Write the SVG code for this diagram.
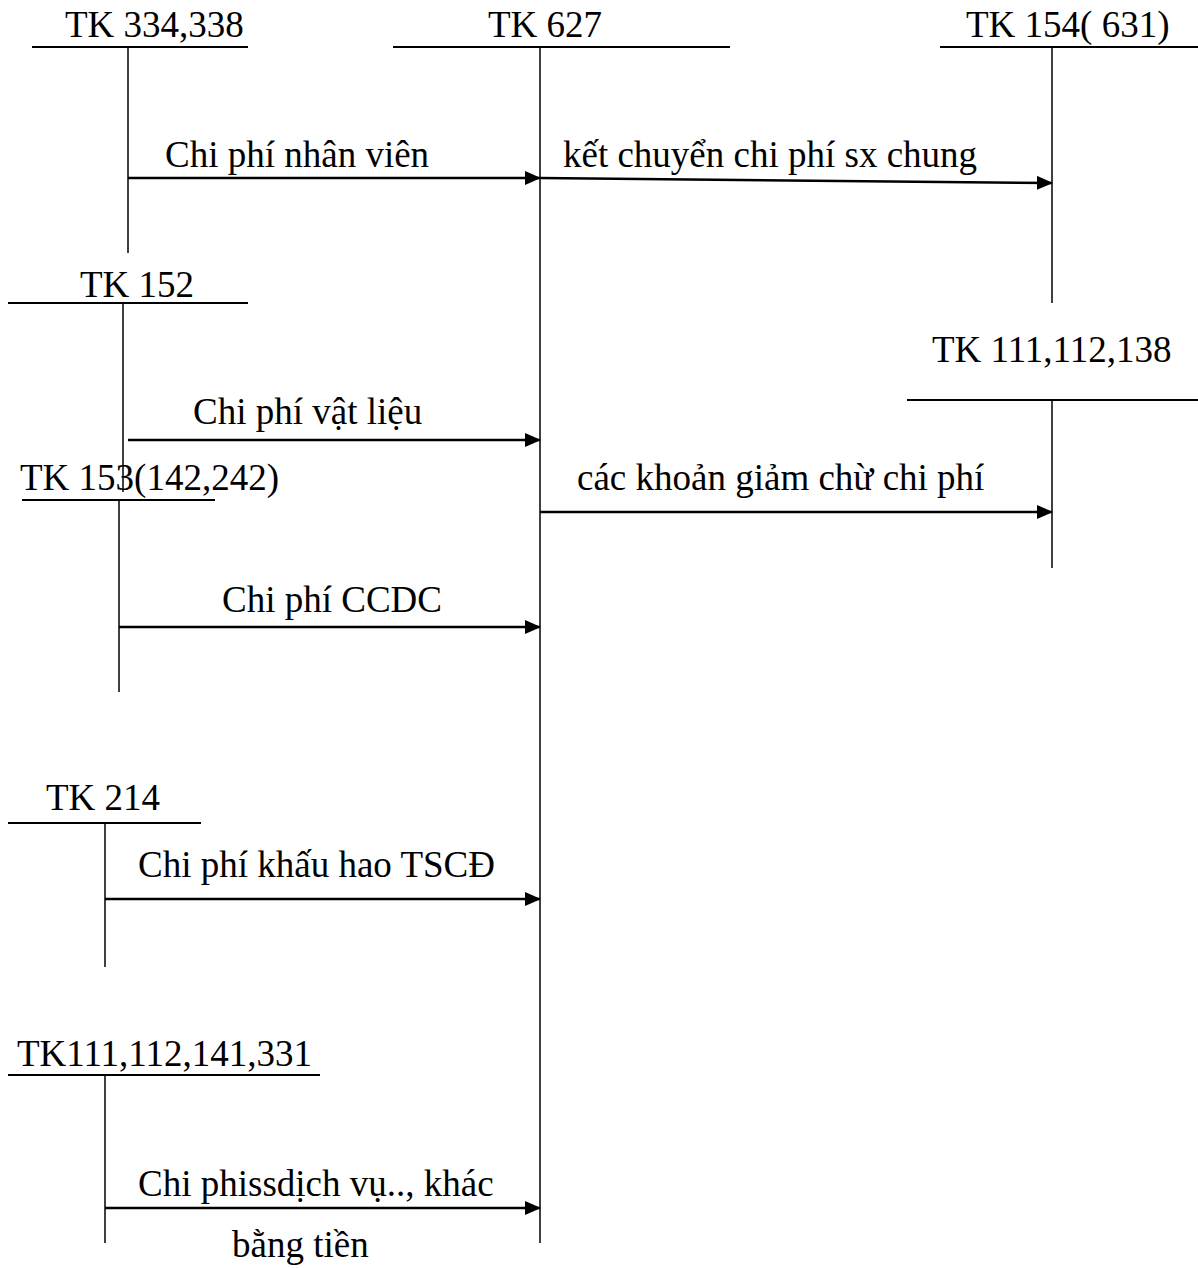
<svg xmlns="http://www.w3.org/2000/svg" width="1198" height="1268" viewBox="0 0 1198 1268">
<style>
text{font-family:"Liberation Serif","Times New Roman",serif;font-size:37px;fill:#000}
.h{stroke:#000;stroke-width:2;fill:none}
.v{stroke:#000;stroke-width:1.5;fill:none}
.a{stroke:#000;stroke-width:2.5;fill:none;marker-end:url(#ah)}
</style>
<defs>
<marker id="ah" markerWidth="16" markerHeight="14" refX="15" refY="7" orient="auto" markerUnits="userSpaceOnUse">
<path d="M0,0 L16,7 L0,14 Z" fill="#000"/>
</marker>
</defs>
<g id="tk334">
<text x="65" y="37">TK 334,338</text>
<line class="h" x1="32" y1="47" x2="248" y2="47"/>
<line class="v" x1="128" y1="47" x2="128" y2="253"/>
</g>
<g id="tk627">
<text x="488" y="37">TK 627</text>
<line class="h" x1="393" y1="47" x2="730" y2="47"/>
<line class="v" x1="540" y1="47" x2="540" y2="1243"/>
</g>
<g id="tk154">
<text x="966" y="37">TK 154( 631)</text>
<line class="h" x1="940" y1="47" x2="1198" y2="47"/>
<line class="v" x1="1052" y1="47" x2="1052" y2="303"/>
</g>
<g id="tk152">
<text x="80" y="297">TK 152</text>
<line class="h" x1="8" y1="303" x2="248" y2="303"/>
<line class="v" x1="123" y1="303" x2="123" y2="492"/>
</g>
<g id="tk153">
<text x="20" y="490">TK 153(142,242)</text>
<line class="h" x1="22" y1="500" x2="215" y2="500"/>
<line class="v" x1="119" y1="500" x2="119" y2="692"/>
</g>
<g id="tk111a">
<text x="932" y="362">TK 111,112,138</text>
<line class="h" x1="907" y1="400" x2="1198" y2="400"/>
<line class="v" x1="1052" y1="400" x2="1052" y2="568"/>
</g>
<g id="tk214">
<text x="46" y="810">TK 214</text>
<line class="h" x1="8" y1="823" x2="201" y2="823"/>
<line class="v" x1="105" y1="823" x2="105" y2="967"/>
</g>
<g id="tk111b">
<text x="17" y="1066">TK111,112,141,331</text>
<line class="h" x1="8" y1="1075" x2="320" y2="1075"/>
<line class="v" x1="105" y1="1075" x2="105" y2="1243"/>
</g>
<g id="connectors">
<line class="a" x1="128" y1="178" x2="540" y2="178"/>
<text x="165" y="167">Chi phí nhân viên</text>
<line class="a" x1="540" y1="178" x2="1052" y2="183"/>
<text x="563" y="167">kết chuyển chi phí sx chung</text>
<line class="a" x1="128" y1="440" x2="540" y2="440"/>
<text x="193" y="424">Chi phí vật liệu</text>
<line class="a" x1="540" y1="512" x2="1052" y2="512"/>
<text x="577" y="490">các khoản giảm chừ chi phí</text>
<line class="a" x1="119" y1="627" x2="540" y2="627"/>
<text x="222" y="612">Chi phí CCDC</text>
<line class="a" x1="105" y1="899" x2="540" y2="899"/>
<text x="138" y="877">Chi phí khấu hao TSCĐ</text>
<line class="a" x1="105" y1="1208" x2="540" y2="1208"/>
<text x="138" y="1196">Chi phissdịch vụ.., khác</text>
<text x="232" y="1257">bằng tiền</text>
</g>
</svg>
